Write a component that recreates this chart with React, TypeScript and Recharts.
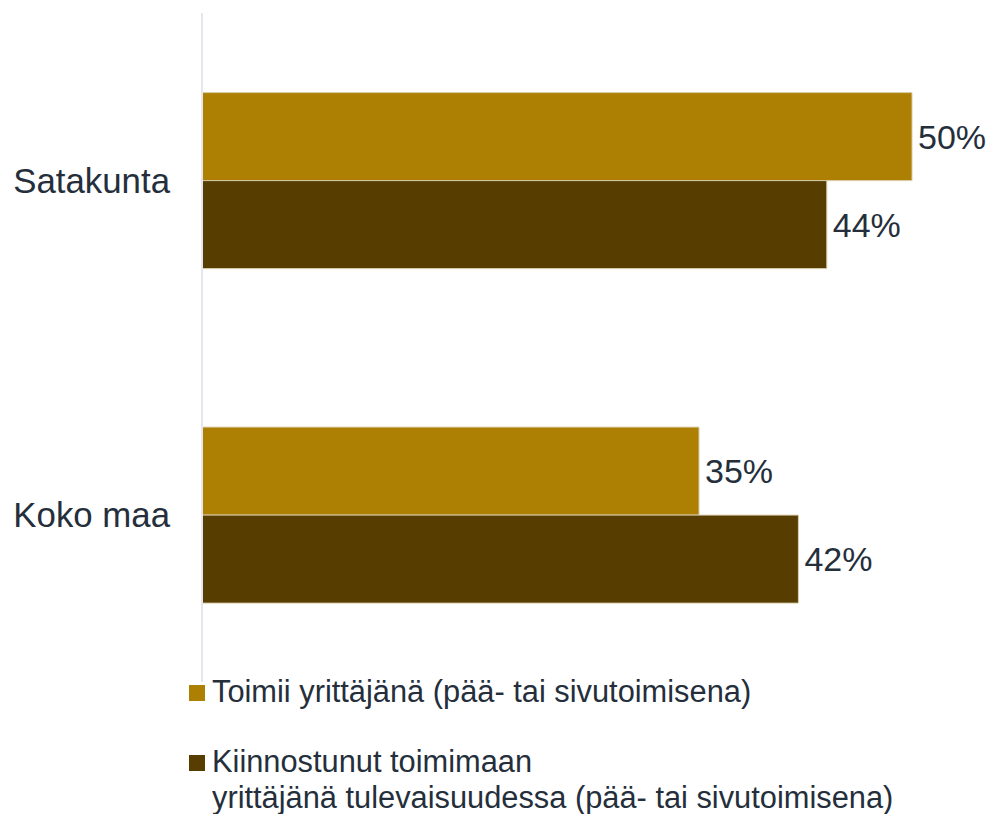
import React from 'react'
import { BarChart, Bar, XAxis, YAxis, LabelList } from 'recharts'

const categories = ['Satakunta', 'Koko maa']
const toimii = [50, 35]
const kiinnostunut = [44, 42]

const SERIES = [
  { key: 'toimii', label: 'Toimii yrittäjänä (pää- tai sivutoimisena)', color: '#ad7f03' },
  { key: 'kiinnostunut', label: 'Kiinnostunut toimimaan\nyrittäjänä tulevaisuudessa (pää- tai sivutoimisena)', color: '#573d00' },
]

const TEXT = '#252f3c'
const FONT = '"Liberation Sans", Arial, sans-serif'

const data = categories.map((name, i) => ({
  name,
  toimii: toimii[i],
  kiinnostunut: kiinnostunut[i],
}))

export default function App() {
  return (
    <div style={{ position: 'absolute', left: 0, top: 0, width: 991, height: 814, fontFamily: FONT, background: '#fff' }}>
      <BarChart
        width={991}
        height={814}
        data={data}
        layout="vertical"
        margin={{ top: 13, right: 8, left: 0, bottom: 132 }}
        barCategoryGap="23.8%"
        barGap={0}
      >
        <XAxis type="number" domain={[0, 55]} hide />
        <YAxis
          type="category"
          dataKey="name"
          width={202}
          axisLine={{ stroke: '#e6e6ee', strokeWidth: 2 }}
          tickLine={false}
          tickMargin={26}
          tick={{ fill: TEXT, fontSize: 34.8, fontFamily: FONT }}
        />
        {SERIES.map(s => (
          <Bar key={s.key} dataKey={s.key} fill={s.color} stroke="#d8cca8" strokeWidth={1} isAnimationActive={false}>
            <LabelList
              dataKey={s.key}
              position="right"
              offset={6}
              formatter={(v: any) => `${v}%`}
              style={{ fill: TEXT, fontSize: 34, fontFamily: FONT }}
            />
          </Bar>
        ))}
      </BarChart>
      {/* Legend */}
      <div style={{ position: 'absolute', left: 189, top: 674, fontSize: 30.8, lineHeight: '36px', color: TEXT }}>
        {SERIES.map((s, i) => (
          <div key={s.key} style={{ display: 'flex', alignItems: 'flex-start', marginTop: i === 0 ? 0 : 34 }}>
            <span style={{ width: 16, height: 16, background: s.color, marginTop: 11, marginRight: 7, flex: 'none' }} />
            <span style={{ whiteSpace: 'pre' }}>{s.label}</span>
          </div>
        ))}
      </div>
    </div>
  )
}
